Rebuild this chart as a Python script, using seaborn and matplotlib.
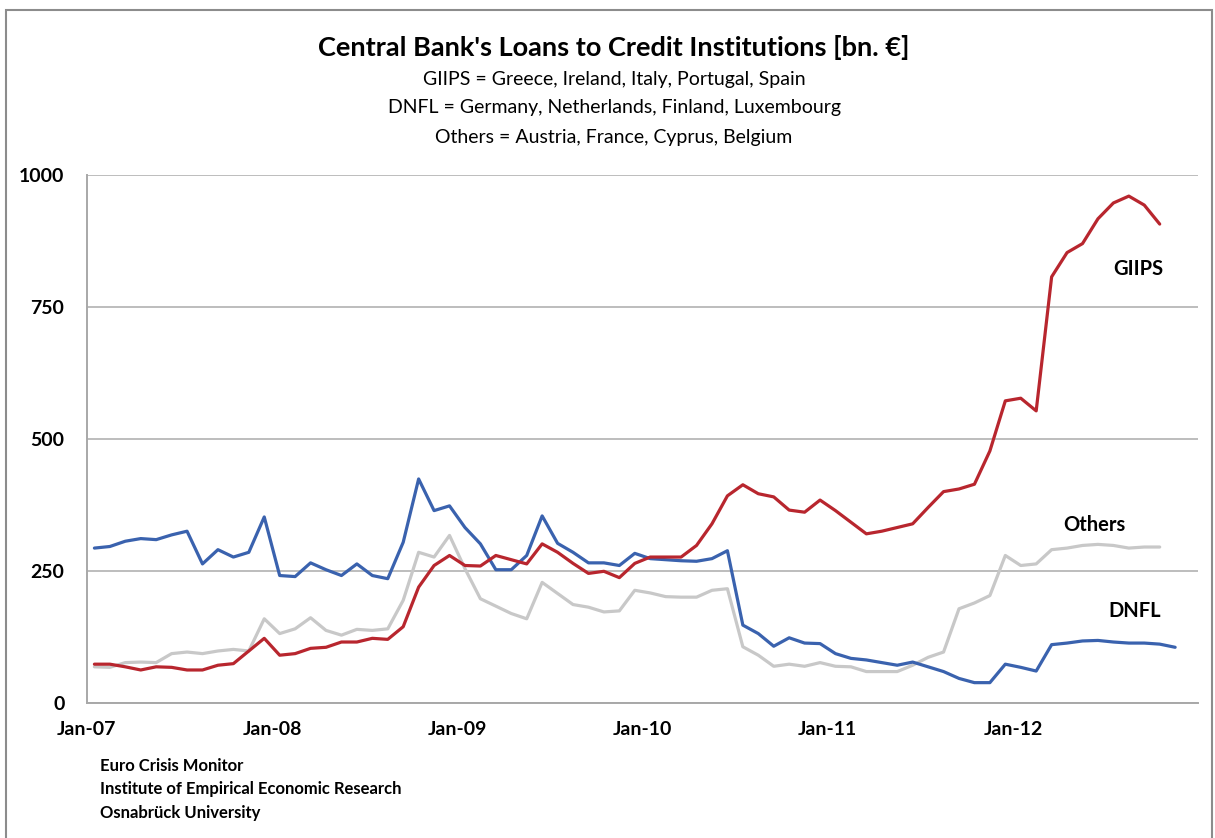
import numpy as np
import pandas as pd
import seaborn as sns
import matplotlib.pyplot as plt
from matplotlib.patches import Rectangle

# monthly values, Jan-07 onwards (bn. EUR)
giips = [73, 73, 68, 62, 68, 67, 62, 62, 71, 74, 98, 122,
         90, 93, 103, 105, 115, 115, 122, 120, 144, 219, 260, 279,
         260, 259, 279, 271, 263, 301, 285, 264, 245, 249, 237, 264,
         276, 276, 276, 298, 339, 392, 413, 396, 390, 365, 361, 384,
         364, 342, 320, 325, 332, 339, 370, 400, 405, 414, 477, 572,
         577, 553, 807, 853, 870, 917, 947, 960, 943, 907]
dnfl = [293, 296, 306, 311, 309, 318, 325, 263, 290, 276, 285, 352,
        241, 239, 265, 252, 241, 263, 241, 235, 304, 424, 364, 373,
        332, 301, 252, 252, 279, 354, 302, 285, 265, 265, 260, 283,
        273, 271, 269, 268, 273, 288, 147, 131, 107, 123, 113, 112,
        93, 84, 81, 76, 71, 77, 68, 59, 46, 38, 38, 73,
        67, 60, 110, 113, 117, 118, 115, 113, 113, 111, 105]
others = [68, 67, 76, 77, 76, 93, 96, 93, 98, 101, 98, 159,
          131, 140, 161, 137, 128, 139, 137, 140, 194, 285, 276, 317,
          254, 197, 183, 169, 159, 228, 207, 186, 181, 172, 174, 213,
          208, 201, 200, 200, 213, 216, 106, 90, 69, 73, 69, 76,
          69, 68, 59, 59, 59, 71, 86, 96, 178, 189, 203, 279,
          260, 263, 290, 293, 298, 300, 298, 293, 295, 295]
year_labels = ["Jan-07", "Jan-08", "Jan-09", "Jan-10", "Jan-11", "Jan-12", ""]
y_ticks = [0, 250, 500, 750, 1000]

colors = {"GIIPS": "#B8262E", "DNFL": "#3A62AE", "Others": "#C8C8C8"}

rows = []
for name, vals in [("Others", others), ("DNFL", dnfl), ("GIIPS", giips)]:
    for i, v in enumerate(vals):
        rows.append({"month": i + 0.5, "value": v, "series": name})
df = pd.DataFrame(rows)

sns.set_theme(style="white")
plt.rcParams['font.family'] = ['Lato', 'DejaVu Sans']
plt.rcParams['text.color'] = 'black'

fig = plt.figure(figsize=(12.15, 8.38), dpi=100)
fig.patch.set_facecolor("white")
ax = fig.add_axes([86.7 / 1215, 135.3 / 838, (1198.3 - 86.7) / 1215, (702.7 - 175) / 838])

sns.lineplot(data=df, x="month", y="value", hue="series", palette=colors,
             hue_order=["Others", "DNFL", "GIIPS"], estimator=None,
             linewidth=2.3, legend=False, ax=ax)

ax.set_xlim(0, 72)
ax.set_ylim(0, 1000)
ax.set_xticks(range(0, 73, 12))
ax.set_xticklabels(year_labels, fontsize=14, fontweight="bold")
ax.set_yticks(y_ticks)
ax.set_yticklabels([str(t) for t in y_ticks], fontsize=14, fontweight="bold")
ax.set_xlabel("")
ax.set_ylabel("")
ax.yaxis.grid(True, color="#BDBDBD", linewidth=1.4)
ax.xaxis.grid(False)
ax.set_axisbelow(True)
for s in ["top", "right"]:
    ax.spines[s].set_visible(False)
for s in ["left", "bottom"]:
    ax.spines[s].set_color("#A8A8A8")
    ax.spines[s].set_linewidth(1.4)
ax.tick_params(axis="both", direction="out", length=5, width=1.2, color="#A8A8A8",
               labelcolor="black")
ax.tick_params(axis="y", pad=11)
ax.tick_params(axis="x", pad=8)

# series labels
ax.text(68.1, 821, "GIIPS", fontsize=14.5, fontweight="bold", ha="center", va="center")
ax.text(65.3, 336, "Others", fontsize=14.5, fontweight="bold", ha="center", va="center")
ax.text(67.9, 173, "DNFL", fontsize=14.5, fontweight="bold", ha="center", va="center")

# titles
fig.text(614 / 1215, 1 - 47 / 838, "Central Bank's Loans to Credit Institutions [bn. \u20ac]",
         fontsize=19.5, fontweight="bold", ha="center", va="center")
subs = ["GIIPS = Greece, Ireland, Italy, Portugal, Spain",
        "DNFL = Germany, Netherlands, Finland, Luxembourg",
        "Others = Austria, France, Cyprus, Belgium"]
for yy, s in zip([79, 108, 137], subs):
    fig.text(614 / 1215, 1 - yy / 838, s, fontsize=14, ha="center", va="center")

foot = ["Euro Crisis Monitor", "Institute of Empirical Economic Research", "Osnabr\u00fcck University"]
for yy, s in zip([766, 789, 813], foot):
    fig.text(100 / 1215, 1 - yy / 838, s, fontsize=12, fontweight="bold", ha="left", va="center")

# chart border
fig.add_artist(Rectangle((6 / 1215, -0.05), 1206 / 1215, 1.05 - 10 / 838,
                         transform=fig.transFigure, fill=False, edgecolor="#8C8C8C", linewidth=1.5))

fig.savefig("out.png", dpi=100, facecolor="white")
